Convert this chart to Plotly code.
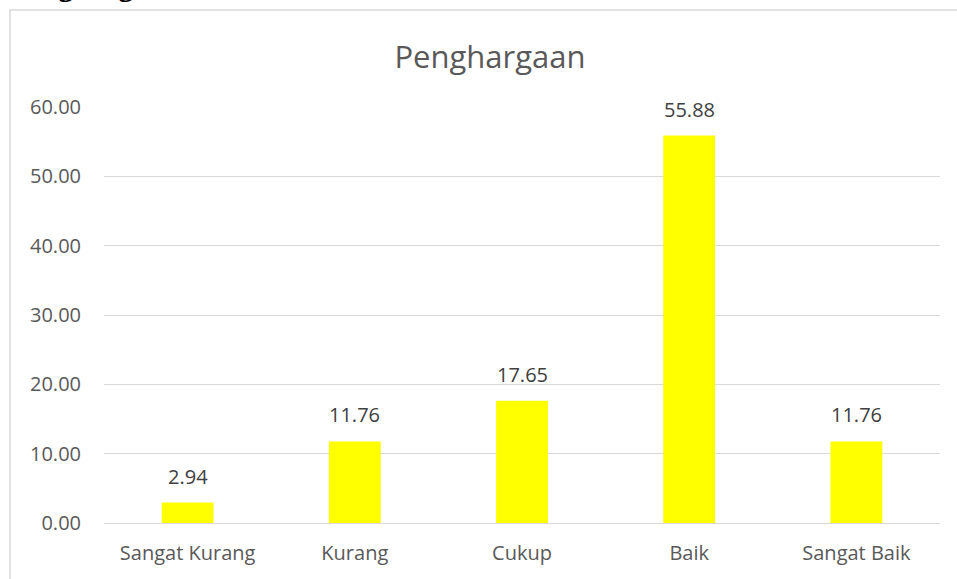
import plotly.graph_objects as go

categories = ["Sangat Kurang", "Kurang", "Cukup", "Baik", "Sangat Baik"]
values = [2.94, 11.76, 17.65, 55.88, 11.76]
tick_vals = [0, 10, 20, 30, 40, 50, 60]
tick_text = ["0.00", "10.00", "20.00", "30.00", "40.00", "50.00", "60.00"]

FONT = "Open Sans"
GREY = "#595959"

fig = go.Figure()
fig.add_trace(go.Bar(
    x=categories, y=values,
    marker=dict(color="#FFFF00", line=dict(width=0)),
    hoverinfo="skip",
))

for c, v in zip(categories, values):
    fig.add_annotation(
        x=c, y=v, xref="x", yref="y", text=f"{v:.2f}",
        showarrow=False, yanchor="bottom", yshift=11,
        font=dict(family=FONT, size=20, color="#404040"),
    )

# cut-off heading text at top of page
fig.add_annotation(
    x=(8 - 104) / 836, y=(523 - 4) / 416, xref="paper", yref="paper",
    text="<b>Penghargaan</b>", showarrow=False,
    xanchor="left", yanchor="bottom",
    font=dict(family="Liberation Serif", size=30, color="#000000"),
)

# chart frame
fig.add_shape(
    type="rect", xref="paper", yref="paper",
    x0=(10 - 104) / 836, x1=1.2, y0=-0.3, y1=(523 - 10) / 416,
    line=dict(color="#d9d9d9", width=1.5), fillcolor="rgba(0,0,0,0)", layer="below",
)

fig.update_layout(
    width=957, height=579,
    margin=dict(l=104, r=17, t=107, b=56),
    paper_bgcolor="white", plot_bgcolor="white",
    bargap=0.69,
    showlegend=False,
    title=dict(
        text="Penghargaan", x=0.512, xanchor="center", y=(579 - 57) / 579, yanchor="middle",
        font=dict(family=FONT, size=31, color=GREY),
    ),
    xaxis=dict(
        showgrid=False, showline=False, ticks="", zeroline=False,
        tickfont=dict(family=FONT, size=20, color=GREY),
        ticklabelstandoff=16,
    ),
    yaxis=dict(
        range=[0, 60], tickvals=tick_vals, ticktext=tick_text,
        showgrid=True, gridcolor="#d9d9d9", gridwidth=1.3,
        zeroline=True, zerolinecolor="#d9d9d9", zerolinewidth=1.3,
        showline=False, ticks="",
        tickfont=dict(family=FONT, size=20, color=GREY),
        ticklabelstandoff=22,
    ),
)

fig.write_html("out.html", config={"displayModeBar": False},
               post_script="document.body.style.margin='0';")
